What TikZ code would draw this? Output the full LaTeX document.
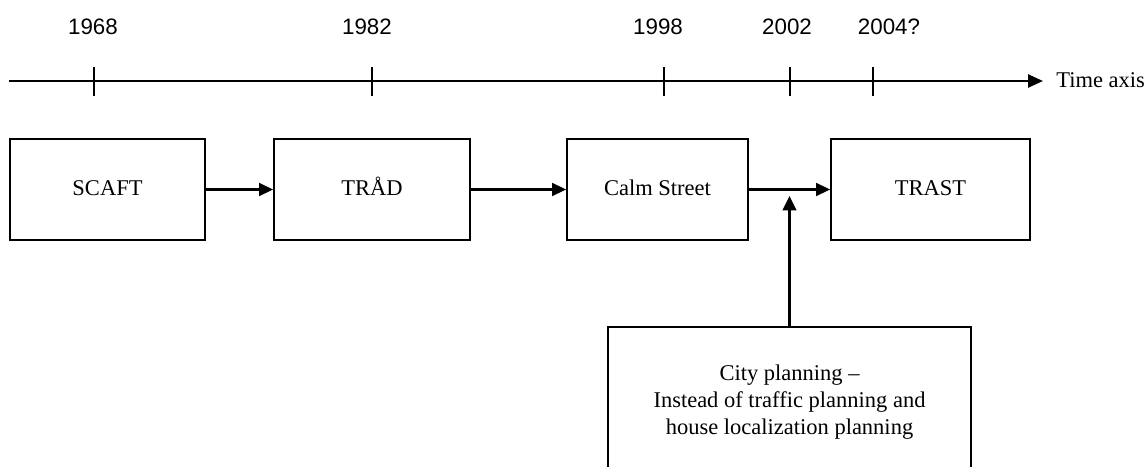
\documentclass[tikz,border=0pt]{standalone}
\usepackage{fontspec}
\setmainfont{Liberation Serif}
\newfontfamily\yearfont{Liberation Sans}
\usetikzlibrary{arrows.meta}

\tikzset{
  stage/.style={draw, line width=1pt, minimum height=60.6pt, inner sep=0pt,
                text height=0.68em, text depth=0pt,
                font=\fontsize{13.5}{16.2}\selectfont},
  year/.style={font=\yearfont\fontsize{13.4}{16}\selectfont, inner sep=0pt},
  tick/.style={line width=0.8pt},
  flow/.style={line width=1.4pt, -{Triangle[length=8.4pt, width=7.6pt]}},
  axis/.style={line width=1.5pt, -{Triangle[length=9pt, width=7.8pt]}}
}

\begin{document}
\begin{tikzpicture}[x=0.6pt, y=-0.6pt]
  \useasboundingbox (0,0) rectangle (1148,466);
  \clip (0,0) rectangle (1148,466);

  % time axis
  \coordinate (axstart) at (9,81);
  \coordinate (axend) at (1043,81);
  \draw[axis] (axstart) -- (axend);
  \node[anchor=west, inner sep=0pt, font=\fontsize{13.5}{16}\selectfont]
    (axlabel) at (1056,80) {Time axis};

  % ticks and years
  \foreach \x/\lx/\yr [count=\i] in {94/93/1968, 372/367/1982, 664/658/1998, 790/787/2002, 873/889/2004?} {
    \coordinate (tt\i) at (\x,67);
    \coordinate (tb\i) at (\x,96);
    \draw[tick] (tt\i) -- (tb\i);
    \node[year] (yr\i) at (\lx,27) {\yr};
  }

  % stages
  \node[stage, minimum width=117pt] (scaft) at (107.5,189.5) {SCAFT};
  \node[stage, minimum width=117.6pt] (trad) at (372,189.5) {TRÅD};
  \node[stage, minimum width=108.6pt] (calm) at (657.5,189.5) {Calm Street};
  \node[stage, minimum width=119.4pt] (trast) at (930.5,189.5) {TRAST};

  \draw[flow] (scaft) -- (trad);
  \draw[flow] (trad) -- (calm);
  \draw[flow] (calm) -- (trast);

  % city planning influence
  \node[draw, line width=1pt, minimum width=217.8pt, minimum height=90pt,
        align=center, font=\fontsize{13.5}{16.2}\selectfont]
    (city) at (789.5,402) {City planning --\\Instead of traffic planning and\\house localization planning};
  \coordinate (join) at (789.5,196);
  \draw[line width=1.7pt, -{Triangle[length=8.6pt, width=8pt]}] (city.north) -- (join);
\end{tikzpicture}
\end{document}
